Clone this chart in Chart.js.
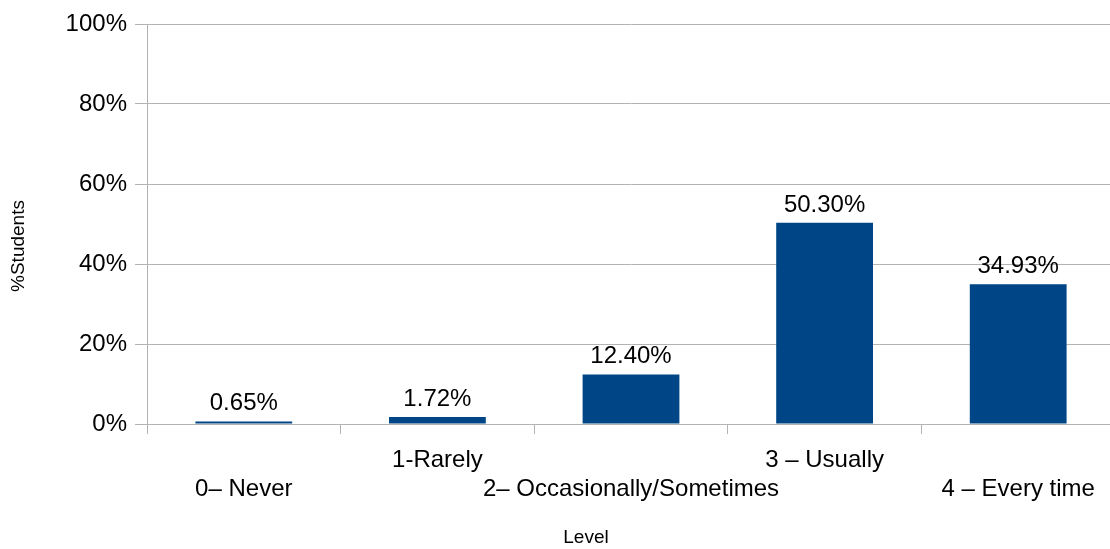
<!DOCTYPE html>
<html>
<head>
<meta charset="utf-8">
<script src="https://cdn.jsdelivr.net/npm/chart.js@4.4.1/dist/chart.umd.min.js"></script>
<style>
  html, body { margin: 0; padding: 0; background: #fff; overflow: hidden; }
  #wrap { position: relative; width: 1116px; height: 549px; }
</style>
</head>
<body>
<div id="wrap"><canvas id="myChart"></canvas></div>
<script>
// data
const levels = ['0– Never', '1-Rarely', '2– Occasionally/Sometimes', '3 – Usually', '4 – Every time'];
const percentStudents = [0.65, 1.72, 12.40, 50.30, 34.93];
const yTickValues = [0, 20, 40, 60, 80, 100];
const xTitle = 'Level';
const yTitle = '%Students';

const fontFamily = '"Liberation Sans", Arial, sans-serif';
const gridColor = '#b3b3b3';

// staggered labels: even ones on the lower row, odd ones on the upper row
const staggered = levels.map((l, i) => i % 2 === 0 ? ['', l] : [l, '']);

// value labels above the bars + axis titles
const labelsPlugin = {
  id: 'labelsPlugin',
  afterDatasetsDraw(chart) {
    const ctx = chart.ctx;
    const meta = chart.getDatasetMeta(0);
    ctx.save();
    ctx.fillStyle = '#000';
    ctx.font = '24px ' + fontFamily;
    ctx.textAlign = 'center';
    ctx.textBaseline = 'alphabetic';
    meta.data.forEach((bar, i) => {
      ctx.fillText(percentStudents[i].toFixed(2) + '%', bar.x, bar.y - 11);
    });

    // axis titles
    ctx.font = '19px ' + fontFamily;
    ctx.textBaseline = 'middle';
    ctx.fillText(xTitle, 586, 538);
    ctx.translate(19, 246);
    ctx.rotate(-Math.PI / 2);
    ctx.fillText(yTitle, 0, 0);
    ctx.restore();
  }
};

const ctx = document.getElementById('myChart').getContext('2d');
const myChart = new Chart(ctx, {
  type: 'bar',
  data: {
    labels: staggered,
    datasets: [{
      data: percentStudents,
      backgroundColor: '#004586',
      borderWidth: 0,
      barPercentage: 0.5,
      categoryPercentage: 1
    }]
  },
  options: {
    responsive: true,
    maintainAspectRatio: false,
    animation: false,
    layout: { padding: { top: 24, left: 0, right: 1, bottom: 0 } },
    plugins: {
      legend: { display: false },
      tooltip: { enabled: false }
    },
    scales: {
      x: {
        offset: true,
        grid: {
          offset: true,
          drawOnChartArea: false,
          drawTicks: true,
          tickLength: 10,
          color: gridColor
        },
        border: { color: gridColor },
        ticks: {
          autoSkip: false,
          maxRotation: 0,
          minRotation: 0,
          padding: 12,
          color: '#000',
          font: { family: fontFamily, size: 24, lineHeight: 1.2 }
        },
        afterFit(scale) { scale.height = 125; }
      },
      y: {
        min: 0,
        max: 100,
        afterBuildTicks(scale) { scale.ticks = yTickValues.map(v => ({ value: v })); },
        grid: { color: gridColor, tickLength: 12 },
        border: { color: gridColor },
        ticks: {
          padding: 8,
          color: '#000',
          font: { family: fontFamily, size: 24 },
          callback: v => v + '%'
        },
        afterFit(scale) { scale.width = 147; }
      }
    }
  },
  plugins: [labelsPlugin]
});
</script>
</body>
</html>
